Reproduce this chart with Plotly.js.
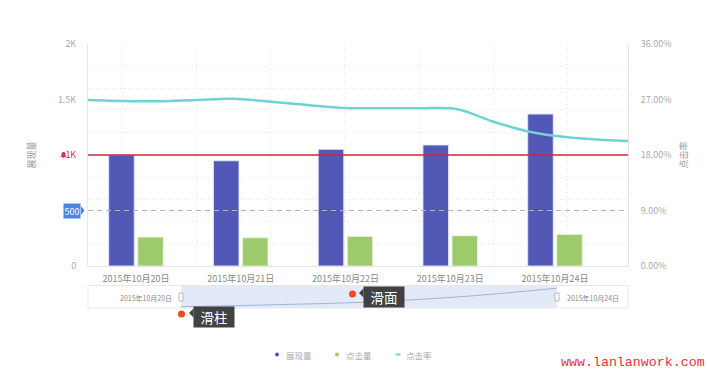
<!DOCTYPE html>
<html>
<head>
<meta charset="utf-8">
<script src="https://cdn.plot.ly/plotly-3.0.1.min.js"></script>
<style>html,body{margin:0;padding:0;background:#fff;}#chart{width:707px;height:370px;}</style>
</head>
<body>
<div id="chart"></div>
<script>
// ---------- data ----------
const categories = ['2015年10月20日', '2015年10月21日', '2015年10月22日', '2015年10月23日', '2015年10月24日'];
const impressions = [1000, 948, 1051, 1090, 1369];      // 展现量
const clicks = [261, 255, 267, 273, 285];                // 点击量
// 点击率 samples on the time axis (slot = position between vertical grid lines)
const rateSlots = [-1, -0.5, 0, 0.5, 1, 1.5, 2, 2.5, 3, 3.5, 4, 4.5, 5, 5.5, 6, 6.5, 7];
const rateValues = [26.95, 26.92, 26.76, 26.71, 26.92, 27.11, 26.64, 26.1, 25.62, 25.57, 25.57, 25.46, 23.4, 21.73, 20.87, 20.43, 20.19];
const sliderSlots = [0, 1, 2, 3, 4];
const sliderTrend = [6, 15, 27, 52, 90];                 // overview line in the slider (relative)
const warnLevel = 1000;   // red guide line
const markLevel = 500;    // dashed guide line
const leftTicks = [0, 500, 1000, 1500, 2000];
const leftTickText = ['0', '', '<span style="color:#cc2f3f">1K</span>', '1.5K', '2K'];
const rightTicks = [0, 9, 18, 27, 36];
const rightTickText = rightTicks.map(v => v.toFixed(2) + '%');

// ---------- layout helpers (pixel -> paper) ----------
const L = 88, R = 628, T = 44, PB = 330;   // plot left/right/top, paper bottom
const W = R - L, H = PB - T;
const mainBottom = 266;
const PX = x => (x - L) / W;
const PY = y => (PB - y) / H;

const font = 'Noto Sans CJK SC, Noto Sans, sans-serif';
const blue = '#5158B6', green = '#9DCA6B', cyan = '#6FD3D5', red = '#C92A3C';
const gridColor = '#e6e6e6';

const traces = [
  {type: 'bar', x: categories, y: impressions, name: '展现量', marker: {color: blue, line: {color: 'rgba(225,228,250,0.9)', width: 1}}, showlegend: false, hoverinfo: 'skip'},
  {type: 'bar', x: categories, y: clicks, name: '点击量', marker: {color: green, line: {color: 'rgba(235,245,225,0.9)', width: 1}}, showlegend: false, hoverinfo: 'skip'},
  {type: 'scatter', mode: 'markers', x: [null], y: [null], xaxis: 'x2', yaxis: 'y3', showlegend: false, hoverinfo: 'skip'},
  {type: 'scatter', mode: 'lines', x: rateSlots, y: rateValues, xaxis: 'x2', yaxis: 'y2', name: '点击率',
   line: {color: cyan, width: 2.5, shape: 'spline', smoothing: 1}, showlegend: false, hoverinfo: 'skip'},
  {type: 'scatter', mode: 'lines', x: sliderSlots, y: sliderTrend, xaxis: 'x3', yaxis: 'y4',
   line: {color: 'rgba(150,170,210,0.85)', width: 1, shape: 'spline'}, showlegend: false, hoverinfo: 'skip'}
];

const yDom = [PY(mainBottom), 1];
const layout = {
  width: 707, height: 370,
  margin: {l: L, r: 707 - R, t: T, b: 370 - PB},
  paper_bgcolor: '#fff', plot_bgcolor: 'rgba(0,0,0,0)',
  font: {family: font, color: '#999', size: 9},
  barmode: 'group', bargap: 0.446, bargroupgap: 0.12,
  showlegend: false,
  xaxis: {type: 'category', range: [-0.458, 4.697], showgrid: false, zeroline: false,
          showline: true, linecolor: '#e3e3e3', linewidth: 1, ticks: '', ticklabelstandoff: 4,
          tickfont: {size: 9, color: '#888', family: font}, anchor: 'y', fixedrange: true},
  yaxis: {domain: yDom, range: [0, 2000], tickmode: 'array', tickvals: leftTicks, ticktext: leftTickText,
          showgrid: false, zeroline: false, showline: true, linecolor: '#e6e6e6', ticks: '',
          ticklabelstandoff: 9, tickfont: {size: 9, color: '#aaa', family: font},
          title: {text: '展现量', font: {size: 9, color: '#999', family: font}, standoff: 20}},
  yaxis2: {overlaying: 'y', side: 'right', range: [0, 36], tickmode: 'array', tickvals: rightTicks,
           ticktext: rightTickText, showgrid: false, zeroline: false, showline: true,
           linecolor: '#e6e6e6', ticks: '', ticklabelstandoff: 10, anchor: 'x',
           tickfont: {size: 9, color: '#aaa', family: font},
           title: {text: '点击率', font: {size: 9, color: '#999', family: font}, standoff: 10}},
  xaxis2: {overlaying: 'x', anchor: 'y', range: [-0.4576, 6.810], tick0: 0, dtick: 1,
           showgrid: true, gridcolor: gridColor, griddash: '1px,3px', gridwidth: 1,
           showticklabels: false, ticks: '', zeroline: false, showline: false},
  yaxis3: {overlaying: 'y', range: [0, 10], tick0: 0, dtick: 1, showgrid: true, gridcolor: gridColor,
           griddash: '1px,3px', gridwidth: 1, showticklabels: false, ticks: '', zeroline: false, showline: false},
  xaxis3: {domain: [PX(181), PX(557)], anchor: 'y4', range: [0, 4], visible: false},
  yaxis4: {domain: [PY(308), PY(286)], anchor: 'x3', range: [0, 100], visible: false},
  shapes: [], annotations: []
};

const S = layout.shapes, A = layout.annotations;
// guide lines
S.push({type: 'line', xref: 'paper', yref: 'y', x0: 0, x1: 1, y0: warnLevel, y1: warnLevel, line: {color: red, width: 1.5}});
S.push({type: 'line', xref: 'paper', yref: 'y', x0: 0, x1: 1, y0: markLevel, y1: markLevel, line: {color: '#b4b4b4', width: 1.2, dash: '5px,4px'}});
// 500 tag
A.push({xref: 'paper', yref: 'y', x: PX(81), y: markLevel, xanchor: 'right', yanchor: 'middle', showarrow: false,
        text: '500', font: {size: 9, color: '#fff', family: font}, bgcolor: '#4A86E8', borderpad: 0.5});
S.push({type: 'path', xref: 'paper', yref: 'y', xsizemode: 'pixel', ysizemode: 'pixel', xanchor: PX(81), yanchor: markLevel,
        path: 'M 0,4.5 L 3.5,0 L 0,-4.5 Z', fillcolor: '#4A86E8', line: {width: 0}});
// bell icon next to 1K
S.push({type: 'path', xref: 'paper', yref: 'y', xsizemode: 'pixel', ysizemode: 'pixel', xanchor: PX(63.5), yanchor: warnLevel,
        path: 'M -3,-2 L 3,-2 L 2,-0.5 L 2,1.5 C 2,3.6 -2,3.6 -2,1.5 L -2,-0.5 Z M -0.8,-2.2 L 0.8,-2.2 L 0.8,-3.2 L -0.8,-3.2 Z',
        fillcolor: '#d9343f', line: {width: 0}});

// slider frame
S.push({type: 'rect', xref: 'paper', yref: 'paper', x0: 0, x1: 1, y0: PY(308), y1: PY(285.5), layer: 'below',
        fillcolor: '#fff', line: {color: '#e8e8e8', width: 1}});
S.push({type: 'rect', xref: 'paper', yref: 'paper', x0: PX(181), x1: PX(557), y0: PY(308), y1: PY(286), layer: 'below',
        fillcolor: '#E3E9F7', line: {width: 0}});
[181, 557].forEach(hx => {
  S.push({type: 'rect', xref: 'paper', yref: 'paper', xsizemode: 'pixel', ysizemode: 'pixel', xanchor: PX(hx), yanchor: PY(297),
          x0: -2, x1: 2, y0: -4, y1: 4, fillcolor: '#fff', line: {color: '#b9b9b9', width: 1}});
});
A.push({xref: 'paper', yref: 'paper', x: PX(174), y: PY(297.5), xanchor: 'right', yanchor: 'middle', showarrow: false,
        text: categories[0], font: {size: 7, color: '#888', family: font}});
A.push({xref: 'paper', yref: 'paper', x: PX(565), y: PY(297.5), xanchor: 'left', yanchor: 'middle', showarrow: false,
        text: categories[categories.length - 1], font: {size: 7, color: '#888', family: font}});

// callouts
function callout(label, dotX, dotY, tipX, tipY, boxX, boxY) {
  S.push({type: 'circle', xref: 'paper', yref: 'paper', xsizemode: 'pixel', ysizemode: 'pixel', xanchor: PX(dotX), yanchor: PY(dotY),
          x0: -3.5, x1: 3.5, y0: -3.5, y1: 3.5, fillcolor: '#F2481F', line: {width: 0}});
  A.push({xref: 'paper', yref: 'paper', x: PX(boxX), y: PY(boxY), xanchor: 'left', yanchor: 'middle', showarrow: false,
          text: label, width: 40, height: 20, borderpad: 0, bgcolor: 'rgba(52,52,52,0.93)',
          font: {size: 13.5, color: '#fff', family: font}});
  S.push({type: 'path', xref: 'paper', yref: 'paper', xsizemode: 'pixel', ysizemode: 'pixel', xanchor: PX(tipX), yanchor: PY(tipY),
          path: 'M 0,0 L 4.5,4.5 L 4.5,-4.5 Z', fillcolor: 'rgba(52,52,52,0.93)', line: {width: 0}});
}
callout('滑柱', 181.5, 314, 189, 313, 193, 317);
callout('滑面', 352.5, 294, 359, 293, 363, 297);

// legend
const legendItems = [
  {label: '展现量', color: blue, kind: 'dot', sx: 277, tx: 283.5},
  {label: '点击量', color: green, kind: 'dot', sx: 337, tx: 344},
  {label: '点击率', color: cyan, kind: 'dash', sx: 398, tx: 404}
];
legendItems.forEach(it => {
  if (it.kind === 'dot') {
    S.push({type: 'circle', xref: 'paper', yref: 'paper', xsizemode: 'pixel', ysizemode: 'pixel', xanchor: PX(it.sx), yanchor: PY(354.5),
            x0: -2, x1: 2, y0: -2, y1: 2, fillcolor: it.color, line: {width: 0}});
  } else {
    S.push({type: 'rect', xref: 'paper', yref: 'paper', xsizemode: 'pixel', ysizemode: 'pixel', xanchor: PX(it.sx), yanchor: PY(354.5),
            x0: -2.5, x1: 2.5, y0: -1, y1: 1, fillcolor: it.color, line: {width: 0}});
  }
  A.push({xref: 'paper', yref: 'paper', x: PX(it.tx), y: PY(354.5), xanchor: 'left', yanchor: 'middle', showarrow: false,
          text: it.label, font: {size: 8.5, color: '#aaa', family: font}});
});

// watermark
A.push({xref: 'paper', yref: 'paper', x: PX(559), y: PY(362.5), xanchor: 'left', yanchor: 'middle', showarrow: false,
        text: 'www.lanlanwork.com', font: {size: 13.3, color: '#EE2E3C', family: 'Liberation Mono, DejaVu Sans Mono, monospace'}});

Plotly.newPlot('chart', traces, layout, {displayModeBar: false, staticPlot: true});
</script>
</body>
</html>
